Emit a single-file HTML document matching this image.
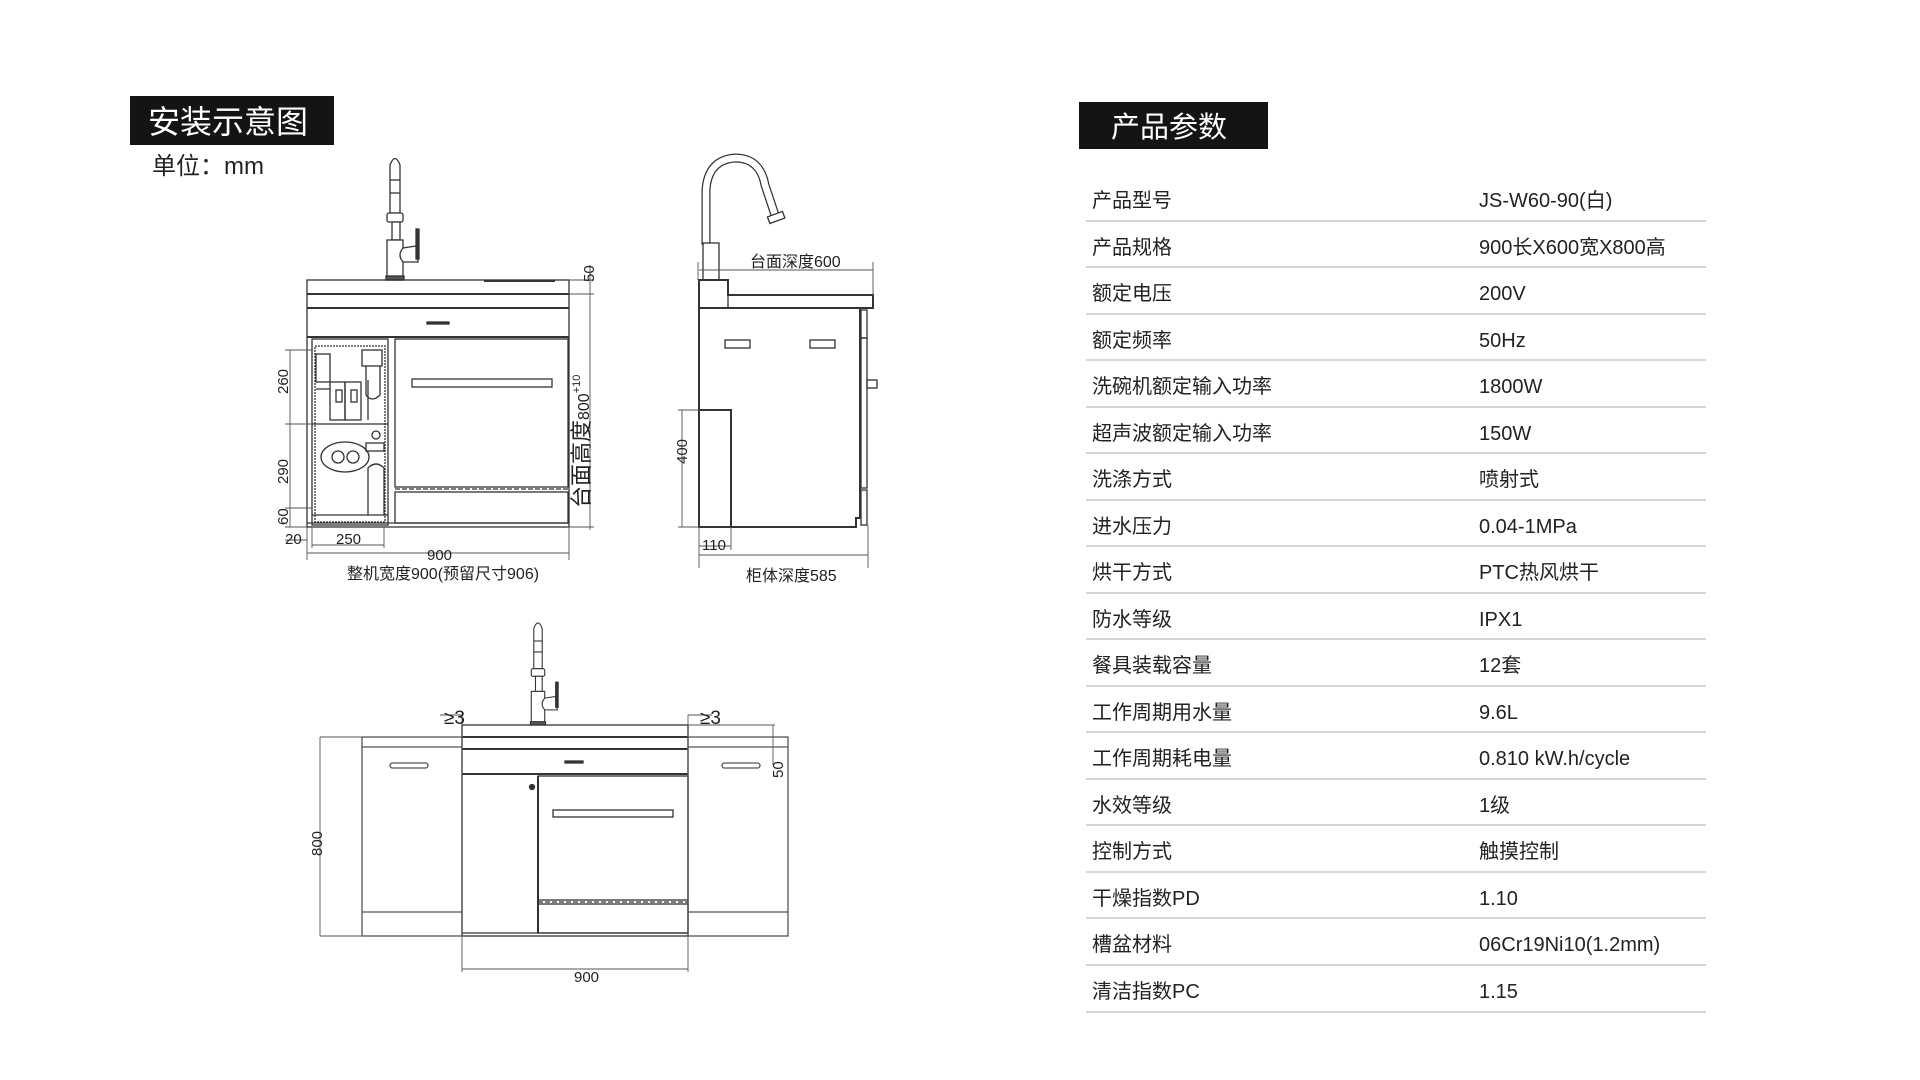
<!DOCTYPE html>
<html><head><meta charset="utf-8"><style>
html,body{margin:0;padding:0;background:#fff;width:1920px;height:1080px;overflow:hidden}
svg{display:block}
text{font-family:"Liberation Sans","Noto Sans CJK SC",sans-serif;fill:#222}
</style></head><body>
<svg width="1920" height="1080" viewBox="0 0 1920 1080" xmlns="http://www.w3.org/2000/svg">
<defs>
<g id="faucet" fill="#fff" stroke="#333" stroke-width="1.3">
  <path d="M390 213 L390 165 Q395 152 400 165 L400 213 Z"/>
  <line x1="390" y1="180" x2="400" y2="180"/><line x1="390" y1="193" x2="400" y2="193"/>
  <rect x="387" y="213" width="16" height="9" rx="2"/>
  <rect x="392" y="222" width="8" height="18"/>
  <rect x="387" y="240" width="16" height="40"/>
  <path d="M403 248 L416 246 L418 262 L403 262 Q397 255 403 248Z"/>
  <rect x="416" y="229" width="3" height="30" fill="#333"/>
  <rect x="386" y="276" width="18" height="4" fill="#555"/>
</g>
</defs>

<rect x="130" y="96" width="204" height="49" fill="#141414"/>
<text x="148" y="133" font-size="32" style="fill:#fff">安装示意图</text>
<text x="152" y="174" font-size="24">单位：mm</text>

<!-- FRONT VIEW -->
<g fill="none" stroke="#333" stroke-width="1.3">
<use href="#faucet"/>
<rect x="307" y="280" width="262" height="247"/>
<line x1="307" y1="294" x2="569" y2="294" stroke-width="2"/>
<line x1="307" y1="308" x2="569" y2="308" stroke-width="2"/>
<line x1="307" y1="337" x2="569" y2="337" stroke-width="2"/>
<line x1="484" y1="281" x2="555" y2="281" stroke-width="2"/>
<rect x="427" y="322" width="22" height="2" fill="#333"/>
<rect x="312" y="339" width="76" height="186"/>
<rect x="315" y="346" width="70" height="176" stroke-dasharray="2 1"/>
<line x1="312" y1="424" x2="388" y2="424"/>
<rect x="316" y="354" width="14" height="28"/>
<line x1="316" y1="389" x2="330" y2="389"/>
<rect x="330" y="382" width="15" height="38"/><rect x="345" y="382" width="16" height="38"/>
<rect x="336" y="390" width="6" height="12"/><rect x="351" y="390" width="6" height="12"/>
<rect x="362" y="350" width="20" height="16"/>
<path d="M366 366 L366 395 Q372 403 380 395 L380 366"/>
<line x1="368" y1="380" x2="368" y2="420"/>
<circle cx="376" cy="435" r="4"/><rect x="366" y="443" width="18" height="8"/>
<ellipse cx="345" cy="457" rx="24" ry="15"/>
<circle cx="338" cy="457" r="6"/><circle cx="353" cy="457" r="6"/>
<path d="M368 515 L368 468 Q376 460 384 468 L384 515"/>
<line x1="312" y1="515" x2="388" y2="515"/>
<rect x="395" y="339" width="173" height="148"/>
<rect x="412" y="379" width="140" height="8"/>
<line x1="395" y1="489" x2="568" y2="489" stroke-dasharray="5 2"/>
<rect x="395" y="492" width="173" height="31"/>
<line x1="307" y1="523" x2="569" y2="523"/>
<g stroke="#555" stroke-width="0.9">
<line x1="569" y1="280" x2="594" y2="280"/><line x1="569" y1="294" x2="594" y2="294"/>
<line x1="569" y1="527" x2="594" y2="527"/>
<line x1="590" y1="265" x2="590" y2="530"/>
<line x1="290" y1="350" x2="290" y2="527"/>
<line x1="285" y1="350" x2="312" y2="350"/><line x1="285" y1="424" x2="312" y2="424"/>
<line x1="285" y1="508" x2="312" y2="508"/><line x1="285" y1="527" x2="307" y2="527"/>
<line x1="307" y1="527" x2="307" y2="560"/><line x1="312" y1="527" x2="312" y2="548"/>
<line x1="384" y1="527" x2="384" y2="548"/><line x1="569" y1="527" x2="569" y2="560"/>
<line x1="312" y1="545" x2="384" y2="545"/>
<line x1="307" y1="553" x2="569" y2="553"/>
<line x1="285" y1="540" x2="307" y2="540"/>
</g>
</g>
<g font-size="15">
<text transform="translate(594,282) rotate(-90)">50</text>
<text transform="translate(288,394) rotate(-90)">260</text>
<text transform="translate(288,484) rotate(-90)">290</text>
<text transform="translate(288,525) rotate(-90)">60</text>
<text x="285" y="544">20</text>
<text x="336" y="544">250</text>
<text x="427" y="560">900</text>
<text x="347" y="579" font-size="16">整机宽度900(预留尺寸906)</text>
<text transform="translate(589,508) rotate(-90)" font-size="22">台面高度<tspan font-size="16">800</tspan><tspan font-size="11" dy="-9">+10</tspan></text>
</g>

<!-- SIDE VIEW -->
<g fill="none" stroke="#333" stroke-width="1.3">
<path d="M706 245 L706 190 Q708 160 735 158 Q760 158 765 185 L775 215" stroke-width="9" stroke="#333"/>
<path d="M706 245 L706 190 Q708 160 735 158 Q760 158 765 185 L775 215" stroke-width="6.5" stroke="#fff"/>
<rect x="768" y="214" width="16" height="7" transform="rotate(-20 776 217)" fill="#fff"/>
<rect x="703" y="243" width="16" height="37" fill="#fff"/>
<path d="M699 280 L728 280 L728 295 L873 295 L873 308 L699 308 Z" stroke-width="2"/>
<line x1="728" y1="295" x2="728" y2="308"/>
<path d="M699 308 L699 527 L856 527 L856 518 L860 518 L860 308" stroke-width="2"/>
<rect x="861" y="310" width="6" height="28"/><rect x="861" y="338" width="6" height="150"/>
<rect x="861" y="490" width="6" height="35"/>
<rect x="867" y="380" width="10" height="8"/>
<rect x="725" y="340" width="25" height="8"/><rect x="810" y="340" width="25" height="8"/>
<rect x="699" y="410" width="32" height="117" stroke-width="2"/>
<g stroke="#555" stroke-width="0.9">
<line x1="698" y1="262" x2="698" y2="280"/><line x1="873" y1="262" x2="873" y2="295"/>
<line x1="699" y1="270" x2="873" y2="270"/>
<line x1="682" y1="410" x2="682" y2="527"/><line x1="678" y1="410" x2="699" y2="410"/><line x1="678" y1="527" x2="699" y2="527"/>
<line x1="699" y1="527" x2="699" y2="568"/><line x1="731" y1="527" x2="731" y2="550"/>
<line x1="699" y1="546" x2="731" y2="546"/>
<line x1="868" y1="525" x2="868" y2="568"/>
<line x1="699" y1="555" x2="868" y2="555"/>
</g>
</g>
<g font-size="15">
<text x="750" y="267" font-size="16">台面深度600</text>
<text transform="translate(687,464) rotate(-90)">400</text>
<text x="702" y="550">110</text>
<text x="746" y="581" font-size="16">柜体深度585</text>
</g>

<!-- BOTTOM VIEW -->
<g fill="none" stroke="#333" stroke-width="1.3">
<use href="#faucet" transform="translate(538,725) scale(0.84) translate(-395,-280)"/>
<rect x="462" y="725" width="226" height="211"/>
<line x1="462" y1="737" x2="688" y2="737" stroke-width="2"/>
<line x1="462" y1="749" x2="688" y2="749" stroke-width="2"/>
<line x1="462" y1="774" x2="688" y2="774" stroke-width="2"/>
<rect x="565" y="761" width="18" height="2" fill="#333"/>
<line x1="538" y1="776" x2="538" y2="933" stroke-width="2"/>
<circle cx="532" cy="787" r="2.5" fill="#333"/>
<rect x="538" y="776" width="150" height="124"/>
<rect x="553" y="810" width="120" height="7"/>
<line x1="538" y1="902" x2="688" y2="902" stroke-dasharray="5 2"/>
<rect x="538" y="904" width="150" height="29"/>
<line x1="462" y1="933" x2="688" y2="933"/>
<g stroke="#555">
<rect x="362" y="737" width="100" height="199"/>
<line x1="362" y1="747" x2="462" y2="747"/><line x1="362" y1="912" x2="462" y2="912"/>
<rect x="688" y="737" width="100" height="199"/>
<line x1="688" y1="747" x2="788" y2="747"/><line x1="688" y1="912" x2="788" y2="912"/>
<rect x="390" y="763" width="38" height="5" rx="2.5"/>
<rect x="722" y="763" width="38" height="5" rx="2.5"/>
</g>
<g stroke="#555" stroke-width="0.9">
<line x1="320" y1="737" x2="362" y2="737"/><line x1="320" y1="936" x2="362" y2="936"/>
<line x1="320" y1="737" x2="320" y2="936"/>
<line x1="440" y1="715" x2="462" y2="715"/><line x1="462" y1="715" x2="462" y2="725"/>
<line x1="688" y1="715" x2="712" y2="715"/><line x1="688" y1="715" x2="688" y2="725"/>
<line x1="688" y1="725" x2="775" y2="725"/><line x1="773" y1="725" x2="773" y2="765"/>
<line x1="462" y1="936" x2="462" y2="972"/><line x1="688" y1="936" x2="688" y2="972"/>
<line x1="462" y1="969" x2="688" y2="969"/>
</g>
</g>
<g font-size="15">
<text x="444" y="724" font-size="19">≥3</text>
<text x="700" y="724" font-size="19">≥3</text>
<text transform="translate(783,778) rotate(-90)">50</text>
<text transform="translate(322,856) rotate(-90)">800</text>
<text x="574" y="982">900</text>
</g>

<!-- PARAMETERS -->
<rect x="1079" y="102" width="189" height="47" fill="#141414"/>
<text x="1111" y="137" font-size="29" style="fill:#fff">产品参数</text>
<g font-size="20">
<text x="1092" y="207">产品型号</text><text x="1479" y="207">JS-W60-90(白)</text>
<text x="1092" y="254">产品规格</text><text x="1479" y="254">900长X600宽X800高</text>
<text x="1092" y="300">额定电压</text><text x="1479" y="300">200V</text>
<text x="1092" y="347">额定频率</text><text x="1479" y="347">50Hz</text>
<text x="1092" y="393">洗碗机额定输入功率</text><text x="1479" y="393">1800W</text>
<text x="1092" y="440">超声波额定输入功率</text><text x="1479" y="440">150W</text>
<text x="1092" y="486">洗涤方式</text><text x="1479" y="486">喷射式</text>
<text x="1092" y="533">进水压力</text><text x="1479" y="533">0.04-1MPa</text>
<text x="1092" y="579">烘干方式</text><text x="1479" y="579">PTC热风烘干</text>
<text x="1092" y="626">防水等级</text><text x="1479" y="626">IPX1</text>
<text x="1092" y="672">餐具装载容量</text><text x="1479" y="672">12套</text>
<text x="1092" y="719">工作周期用水量</text><text x="1479" y="719">9.6L</text>
<text x="1092" y="765">工作周期耗电量</text><text x="1479" y="765">0.810 kW.h/cycle</text>
<text x="1092" y="812">水效等级</text><text x="1479" y="812">1级</text>
<text x="1092" y="858">控制方式</text><text x="1479" y="858">触摸控制</text>
<text x="1092" y="905">干燥指数PD</text><text x="1479" y="905">1.10</text>
<text x="1092" y="951">槽盆材料</text><text x="1479" y="951">06Cr19Ni10(1.2mm)</text>
<text x="1092" y="998">清洁指数PC</text><text x="1479" y="998">1.15</text>
</g>
<g stroke="#c8c8c8" stroke-width="1.5">
<line x1="1086" y1="221" x2="1706" y2="221"/><line x1="1086" y1="267" x2="1706" y2="267"/>
<line x1="1086" y1="314" x2="1706" y2="314"/><line x1="1086" y1="360" x2="1706" y2="360"/>
<line x1="1086" y1="407" x2="1706" y2="407"/><line x1="1086" y1="453" x2="1706" y2="453"/>
<line x1="1086" y1="500" x2="1706" y2="500"/><line x1="1086" y1="546" x2="1706" y2="546"/>
<line x1="1086" y1="593" x2="1706" y2="593"/><line x1="1086" y1="639" x2="1706" y2="639"/>
<line x1="1086" y1="686" x2="1706" y2="686"/><line x1="1086" y1="732" x2="1706" y2="732"/>
<line x1="1086" y1="779" x2="1706" y2="779"/><line x1="1086" y1="825" x2="1706" y2="825"/>
<line x1="1086" y1="872" x2="1706" y2="872"/><line x1="1086" y1="918" x2="1706" y2="918"/>
<line x1="1086" y1="965" x2="1706" y2="965"/><line x1="1086" y1="1012" x2="1706" y2="1012"/>
</g>
</svg>
</body></html>
